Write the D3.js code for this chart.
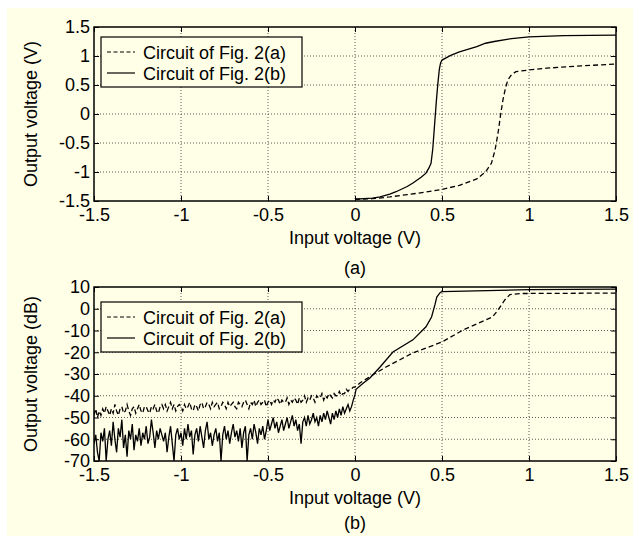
<!DOCTYPE html>
<html>
<head>
<meta charset="utf-8">
<script src="https://cdn.jsdelivr.net/npm/d3@7"></script>
<style>
  body { margin: 0; background: #fff; }
  text { font-family: "Liberation Sans", Arial, sans-serif; font-size: 18px; fill: #000; }
</style>
</head>
<body>
<div id="chart"></div>
<script>
// transfer curves

// (a) linear output, x from 0 to 1.5
var topX_a = [0, 0.1, 0.2, 0.3, 0.4, 0.5, 0.6, 0.7, 0.75, 0.784, 0.805, 0.822, 0.835, 0.85, 0.865, 0.879, 0.9, 0.925, 1.0, 1.1, 1.3, 1.5];
var topY_a = [-1.47, -1.46, -1.43, -1.39, -1.35, -1.30, -1.23, -1.12, -1.0, -0.85, -0.62, -0.33, -0.05, 0.24, 0.45, 0.59, 0.68, 0.73, 0.76, 0.79, 0.83, 0.86];
var topX_b = [0, 0.05, 0.1, 0.144, 0.2, 0.236, 0.3, 0.333, 0.38, 0.408, 0.425, 0.437, 0.447, 0.457, 0.468, 0.477, 0.485, 0.492, 0.5, 0.55, 0.6, 0.7, 0.75, 0.8, 0.9, 1.0, 1.2, 1.5];
var topY_b = [-1.47, -1.46, -1.45, -1.43, -1.38, -1.34, -1.25, -1.19, -1.09, -1.02, -0.93, -0.85, -0.6, -0.2, 0.24, 0.55, 0.78, 0.88, 0.93, 1.01, 1.07, 1.16, 1.22, 1.25, 1.3, 1.33, 1.35, 1.36];

// (b) dB output, noisy part from -1.5 to -0.01 in steps of 0.01
var noiseStart = -1.5, noiseStep = 0.01;
var botNoise_a = [
  -49, -46, -50, -47, -49, -46, -48, -45, -47, -49,
  -46, -48, -44, -47, -49, -46, -45, -48, -47, -44,
  -47, -49, -46, -45, -48, -46, -44, -47, -48, -45,
  -45, -47, -48, -45, -46, -44, -47, -48, -45, -44,
  -46, -44, -47, -45, -43, -46, -44, -47, -45, -44,
  -45, -47, -44, -46, -45, -43, -46, -47, -44, -45,
  -47, -44, -43, -46, -45, -43, -44, -46, -43, -45,
  -44, -43, -46, -45, -43, -44, -46, -43, -45, -44,
  -43, -45, -46, -43, -44, -45, -43, -42, -44, -46,
  -43, -44, -42, -45, -43, -42, -44, -43, -42, -45,
  -43, -42, -44, -42, -43, -41, -42, -44, -42, -43,
  -43, -41, -44, -42, -43, -41, -42, -44, -41, -43,
  -42, -40, -43, -41, -42, -40, -41, -43, -40, -41,
  -41, -39, -42, -40, -41, -39, -40, -41, -39, -40,
  -40, -38, -40, -39, -39, -37, -38, -37, -37, -36
];
var botNoise_b = [
  -62, -58, -66, -70, -57, -61, -55, -70, -60, -56,
  -63, -52, -60, -66, -55, -59, -51, -64, -58, -68,
  -56, -60, -53, -65, -58, -61, -55, -63, -57, -60,
  -54, -62, -59, -51, -57, -64, -56, -60, -55, -58,
  -61, -57, -66, -59, -54, -62, -70, -58, -55, -60,
  -57, -63, -55, -60, -53, -59, -56, -67, -58, -55,
  -61, -54, -59, -64, -56, -52, -60, -57, -63, -58,
  -55, -61, -57, -70, -58, -54, -60, -56, -62, -57,
  -53, -59, -56, -61, -55, -64, -57, -54, -70, -58,
  -55, -60, -53, -57, -62, -55, -58, -54, -60, -56,
  -51, -56, -53, -50, -55, -52, -57, -54, -51, -56,
  -53, -50, -55, -52, -49, -54, -51, -56, -53, -62,
  -52, -50, -54, -49, -53, -51, -48, -52, -50, -54,
  -49, -52, -48, -51, -47, -50, -53, -48, -51, -47,
  -50, -46, -49, -45, -48, -46, -44, -47, -45, -42
];
// smooth part from 0 upward
var botX_a = [0, 0.03, 0.1, 0.178, 0.333, 0.5, 0.62, 0.7, 0.79, 0.822, 0.86, 0.89, 0.95, 1.2, 1.5];
var botY_a = [-36, -34, -30.5, -26.8, -20.3, -15.3, -9.8, -7, -3.8, -0.6, 4, 6.5, 7, 7.1, 7.2];
var botX_b = [0, 0.006, 0.05, 0.086, 0.144, 0.218, 0.333, 0.408, 0.44, 0.46, 0.47, 0.49, 0.5, 1.0, 1.5];
var botY_b = [-39.5, -37, -34, -31.8, -26.8, -19.9, -14.3, -8.3, -3.8, 2, 5.4, 7.5, 7.9, 8.8, 9];

var xTicks = [-1.5, -1, -0.5, 0, 0.5, 1, 1.5];
var topTicks = [-1.5, -1, -0.5, 0, 0.5, 1, 1.5];
var botTicks = [-70, -60, -50, -40, -30, -20, -10, 0, 10];
var legendNames = ["Circuit of Fig. 2(a)", "Circuit of Fig. 2(b)"];

var width = 633, height = 536;

var svg = d3.select("#chart").append("svg")
    .attr("width", width)
    .attr("height", height);

svg.append("rect").attr("x", 7).attr("y", 8)
    .attr("width", width - 7).attr("height", height - 8)
    .attr("fill", "#fffee6");

function zip(xs, ys) {
  return xs.map(function(x, i) { return [x, ys[i]]; });
}
function noisy(vals) {
  return vals.map(function(v, i) { return [noiseStart + i * noiseStep, v]; });
}
// plain hyphen minus like the original
function fmt(d) { return String(d); }

function panel(top, bottom, yDomain, yTicks, ylabel, caption, capOff, seriesA, seriesB, legendTop) {
  var x = d3.scaleLinear().domain([-1.5, 1.5]).range([94, 616]);
  var y = d3.scaleLinear().domain(yDomain).range([bottom, top]);
  var g = svg.append("g");

  // grid
  g.selectAll(".gx").data(xTicks.slice(1, -1)).enter().append("line")
      .attr("x1", function(d) { return x(d); }).attr("x2", function(d) { return x(d); })
      .attr("y1", top).attr("y2", bottom)
      .attr("stroke", "#333").attr("stroke-width", 0.8).attr("stroke-dasharray", "1,2");
  g.selectAll(".gy").data(yTicks.slice(1, -1)).enter().append("line")
      .attr("x1", 94).attr("x2", 616)
      .attr("y1", function(d) { return y(d); }).attr("y2", function(d) { return y(d); })
      .attr("stroke", "#333").attr("stroke-width", 0.8).attr("stroke-dasharray", "1,2");

  // axes with inward ticks on all four sides
  g.append("g").attr("transform", "translate(0," + bottom + ")")
      .call(d3.axisBottom(x).tickValues(xTicks).tickSize(-5).tickPadding(7).tickFormat(fmt))
      .call(function(a) { a.select(".domain").remove(); });
  g.append("g").attr("transform", "translate(0," + top + ")")
      .call(d3.axisTop(x).tickValues(xTicks).tickSize(-5).tickFormat(""))
      .call(function(a) { a.select(".domain").remove(); });
  g.append("g").attr("transform", "translate(94,0)")
      .call(d3.axisLeft(y).tickValues(yTicks).tickSize(-5).tickPadding(4).tickFormat(fmt))
      .call(function(a) { a.select(".domain").remove(); });
  g.append("g").attr("transform", "translate(616,0)")
      .call(d3.axisRight(y).tickValues(yTicks).tickSize(-5).tickFormat(""))
      .call(function(a) { a.select(".domain").remove(); });
  g.selectAll(".tick text").style("font-size", "18px").style("font-family", "Liberation Sans, Arial, sans-serif");
  g.selectAll(".tick line").attr("stroke", "#000");

  var clipId = "clip" + top;
  svg.append("clipPath").attr("id", clipId).append("rect")
      .attr("x", 94).attr("y", top - 1).attr("width", 522).attr("height", bottom - top + 2);

  var line = d3.line().x(function(d) { return x(d[0]); }).y(function(d) { return y(d[1]); });
  g.append("path").datum(seriesA).attr("d", line).attr("clip-path", "url(#" + clipId + ")")
      .attr("fill", "none").attr("stroke", "#000").attr("stroke-width", 1.3).attr("stroke-dasharray", "5,3");
  g.append("path").datum(seriesB).attr("d", line).attr("clip-path", "url(#" + clipId + ")")
      .attr("fill", "none").attr("stroke", "#000").attr("stroke-width", 1.3);

  g.append("rect").attr("x", 94).attr("y", top).attr("width", 522).attr("height", bottom - top)
      .attr("fill", "none").attr("stroke", "#000").attr("stroke-width", 1.5);

  // legend
  var lg = g.append("g").attr("transform", "translate(101," + legendTop + ")");
  lg.append("rect").attr("width", 201).attr("height", 50)
      .attr("fill", "#fffee6").attr("stroke", "#000").attr("stroke-width", 1.2);
  legendNames.forEach(function(name, i) {
    var yy = 15 + i * 21;
    lg.append("line").attr("x1", 6).attr("x2", 34).attr("y1", yy).attr("y2", yy)
        .attr("stroke", "#000").attr("stroke-width", 1.2)
        .attr("stroke-dasharray", i === 0 ? "4,2.5" : null);
    lg.append("text").attr("x", 42).attr("y", yy + 6.5).text(name);
  });

  svg.append("text").attr("transform", "translate(37," + ((top + bottom) / 2) + ") rotate(-90)")
      .attr("text-anchor", "middle").text(ylabel);
  svg.append("text").attr("x", 355).attr("y", bottom + 43)
      .attr("text-anchor", "middle").text("Input voltage (V)");
  svg.append("text").attr("x", 355).attr("y", bottom + capOff)
      .attr("text-anchor", "middle").text(caption);
}

panel(27, 201, [-1.5, 1.5], topTicks, "Output voltage (V)", "(a)", 73,
      zip(topX_a, topY_a), zip(topX_b, topY_b), 37);

panel(287, 461, [-70, 10], botTicks, "Output voltage (dB)", "(b)", 68,
      noisy(botNoise_a).concat(zip(botX_a, botY_a)),
      noisy(botNoise_b).concat(zip(botX_b, botY_b)), 302);
</script>
</body>
</html>
